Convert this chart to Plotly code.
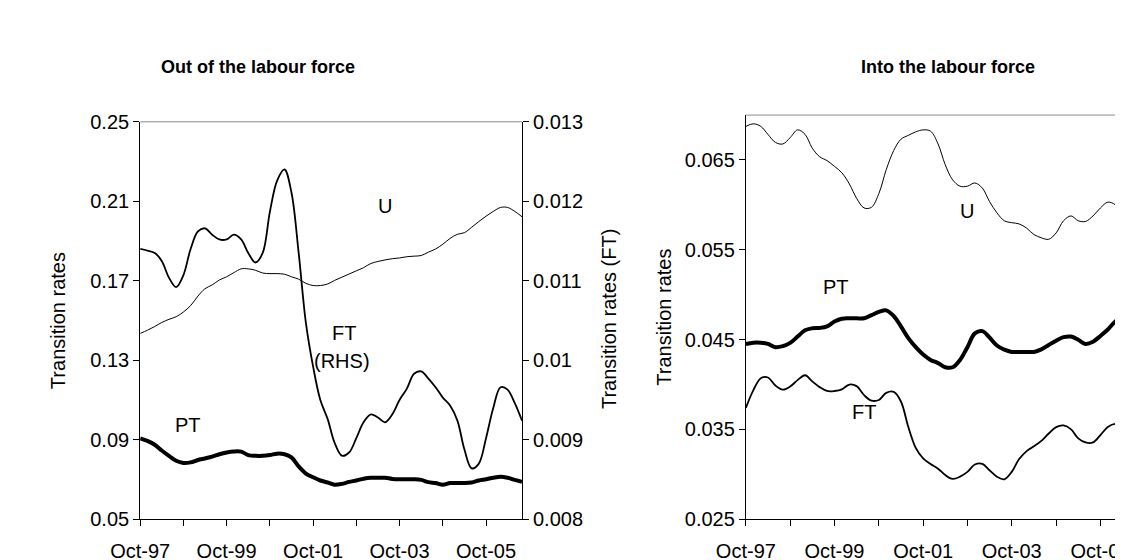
import pandas as pd
import plotly.graph_objects as go

W, H = 1123, 560
FONT = "Liberation Sans, Arial, sans-serif"

# bimonthly observations Oct-97 .. Aug-06
months = pd.date_range("1997-10-01", "2006-08-01", freq="2MS")

# ---- Out of the labour force ----
out_u = [0.1435, 0.1451, 0.1470, 0.1490, 0.1506, 0.1519, 0.1543, 0.1575, 0.1623, 0.1660,
         0.1679, 0.1704, 0.1720, 0.1741, 0.1760, 0.1760, 0.1753, 0.1739, 0.1736, 0.1736,
         0.1733, 0.1720, 0.1708, 0.1687, 0.1676, 0.1676, 0.1684, 0.1702, 0.1718, 0.1734,
         0.1750, 0.1766, 0.1787, 0.1797, 0.1805, 0.1811, 0.1815, 0.1821, 0.1824, 0.1827,
         0.1844, 0.1860, 0.1884, 0.1913, 0.1934, 0.1942, 0.1969, 0.1998, 0.2025, 0.2049,
         0.2069, 0.2069, 0.2049, 0.2022]
out_pt = [0.0907, 0.0894, 0.0875, 0.0846, 0.0819, 0.0794, 0.0783, 0.0786, 0.0798, 0.0806,
          0.0815, 0.0827, 0.0836, 0.0841, 0.0840, 0.0823, 0.0819, 0.0819, 0.0823, 0.0830,
          0.0827, 0.0811, 0.0766, 0.0730, 0.0711, 0.0695, 0.0685, 0.0674, 0.0678, 0.0688,
          0.0695, 0.0704, 0.0709, 0.0709, 0.0709, 0.0703, 0.0701, 0.0701, 0.0701, 0.0698,
          0.0687, 0.0682, 0.0674, 0.0682, 0.0682, 0.0682, 0.0685, 0.0695, 0.0701, 0.0709,
          0.0714, 0.0709, 0.0698, 0.0688]
out_ft = [0.01140, 0.01138, 0.01135, 0.01125, 0.01104, 0.01092, 0.01107, 0.01140, 0.01162, 0.01166,
          0.01158, 0.01152, 0.01152, 0.01158, 0.01152, 0.01135, 0.01123, 0.01135, 0.01187, 0.01226,
          0.01240, 0.01211, 0.01135, 0.01047, 0.00992, 0.00950, 0.00926, 0.00896, 0.00880, 0.00884,
          0.00902, 0.00922, 0.00932, 0.00928, 0.00922, 0.00932, 0.00950, 0.00964, 0.00983, 0.00986,
          0.00977, 0.00966, 0.00953, 0.00943, 0.00924, 0.00888, 0.00864, 0.00870, 0.00902, 0.00940,
          0.00966, 0.00963, 0.00946, 0.00924]

# ---- Into the labour force ----
in_u = [0.06874, 0.06903, 0.06874, 0.06785, 0.06696, 0.06678, 0.06749, 0.06835, 0.06785, 0.06632,
        0.06536, 0.06493, 0.06429, 0.06358, 0.06233, 0.06073, 0.05966, 0.05973, 0.06126, 0.06393,
        0.06607, 0.06731, 0.06774, 0.06813, 0.06835, 0.06821, 0.06678, 0.06447, 0.06279, 0.06208,
        0.06208, 0.06244, 0.06187, 0.06037, 0.05912, 0.05823, 0.05802, 0.05788, 0.05741, 0.05670,
        0.05634, 0.05617, 0.05688, 0.05823, 0.05877, 0.05823, 0.05816, 0.05877, 0.05966, 0.06030,
        0.06000, 0.05850, 0.05570, 0.05400]
in_pt = [0.04452, 0.04466, 0.04466, 0.04452, 0.04416, 0.04427, 0.04463, 0.04534, 0.04605, 0.04626,
         0.04630, 0.04648, 0.04701, 0.04733, 0.04737, 0.04737, 0.04737, 0.04772, 0.04808, 0.04826,
         0.04762, 0.04648, 0.04516, 0.04416, 0.04334, 0.04274, 0.04238, 0.04192, 0.04192, 0.04274,
         0.04416, 0.04569, 0.04594, 0.04523, 0.04434, 0.04388, 0.04363, 0.04363, 0.04363, 0.04363,
         0.04391, 0.04441, 0.04488, 0.04527, 0.04534, 0.04498, 0.04452, 0.04477, 0.04541, 0.04612,
         0.04701, 0.04748, 0.04805, 0.04844]
in_ft = [0.03740, 0.03935, 0.04071, 0.04078, 0.03989, 0.03943, 0.03978, 0.04049, 0.04103, 0.04035,
         0.03971, 0.03928, 0.03928, 0.03946, 0.04000, 0.03982, 0.03882, 0.03821, 0.03828, 0.03907,
         0.03918, 0.03811, 0.03526, 0.03294, 0.03177, 0.03116, 0.03063, 0.02992, 0.02949, 0.02974,
         0.03027, 0.03109, 0.03116, 0.03045, 0.02974, 0.02945, 0.03027, 0.03170, 0.03259, 0.03312,
         0.03373, 0.03455, 0.03526, 0.03544, 0.03501, 0.03401, 0.03355, 0.03355, 0.03437, 0.03526,
         0.03561, 0.03533, 0.03501, 0.03472]

# ticks
x_tick_dates = [f"{y}-10-01" for y in range(1997, 2006)]
x_tick_text = ["Oct-97", "", "Oct-99", "", "Oct-01", "", "Oct-03", "", "Oct-05"]
left_y_ticks = [0.05, 0.09, 0.13, 0.17, 0.21, 0.25]
left_y_text = ["0.05", "0.09", "0.13", "0.17", "0.21", "0.25"]
rhs_y_ticks = [0.008, 0.009, 0.010, 0.011, 0.012, 0.013]
rhs_y_text = ["0.008", "0.009", "0.01", "0.011", "0.012", "0.013"]
right_y_ticks = [0.025, 0.035, 0.045, 0.055, 0.065]
right_y_text = ["0.025", "0.035", "0.045", "0.055", "0.065"]

fig = go.Figure()

def line(x, y, w, xa, ya):
    return go.Scatter(x=x, y=y, mode="lines", xaxis=xa, yaxis=ya,
                      line=dict(color="black", width=w, shape="spline", smoothing=1.0),
                      showlegend=False, hoverinfo="skip")

fig.add_trace(line(months, out_u, 1, "x", "y"))
fig.add_trace(line(months, out_pt, 4, "x", "y"))
fig.add_trace(line(months, out_ft, 1.8, "x", "y2"))
fig.add_trace(line(months, in_u, 1, "x3", "y3"))
fig.add_trace(line(months, in_pt, 4, "x3", "y3"))
fig.add_trace(line(months, in_ft, 1.8, "x3", "y3"))

tickfont = dict(family=FONT, size=20, color="black")
common_x = dict(type="date", tickvals=x_tick_dates, ticktext=x_tick_text,
                ticks="outside", ticklen=6, tickcolor="black", tickwidth=1,
                showline=True, linecolor="black", linewidth=1, showgrid=False,
                zeroline=False, tickfont=tickfont, ticklabelstandoff=8)
common_y = dict(ticks="outside", ticklen=6, tickcolor="black", tickwidth=1,
                showline=True, linecolor="black", linewidth=1, showgrid=False,
                zeroline=False, tickfont=tickfont)

ybot = 1 - 520.7 / H
fig.update_layout(
    width=W, height=H,
    margin=dict(l=0, r=0, t=0, b=0),
    paper_bgcolor="white", plot_bgcolor="white",
    font=dict(family=FONT, color="black"),
    xaxis=dict(domain=[105 / W, 497.3 / W], anchor="y",
               range=["1997-10-01", "2006-08-01"], **common_x),
    yaxis=dict(domain=[ybot, 1 - 107 / H], anchor="x", range=[0.05, 0.25],
               tickvals=left_y_ticks, ticktext=left_y_text, **common_y),
    yaxis2=dict(overlaying="y", anchor="x", side="right", range=[0.008, 0.013],
                tickvals=rhs_y_ticks, ticktext=rhs_y_text, **common_y),
    xaxis3=dict(domain=[727.3 / W, 1.0], anchor="y3",
                range=["1997-10-01", "2006-06-10"], **common_x),
    yaxis3=dict(domain=[ybot, 1 - 100 / H], anchor="x3", range=[0.025, 0.07],
                tickvals=right_y_ticks, ticktext=right_y_text, **common_y),
)

# grey top border of each plot area
for xr, yr in (("x domain", "y domain"), ("x3 domain", "y3 domain")):
    fig.add_shape(type="line", xref=xr, yref=yr, x0=0, x1=1, y0=1, y1=1,
                  line=dict(color="#8c8c8c", width=1))

def ann(text, x, y, xref="paper", yref="paper", size=20, bold=False, angle=0):
    fig.add_annotation(text=f"<b>{text}</b>" if bold else text, x=x, y=y,
                       xref=xref, yref=yref, showarrow=False, textangle=angle,
                       font=dict(family=FONT, size=size, color="black"),
                       xanchor="center", yanchor="middle")

ann("Out of the labour force", 226 / W, 1 - 50 / H, size=18, bold=True)
ann("Into the labour force", 935 / W, 1 - 50 / H, size=18, bold=True)
ann("Transition rates", 20 / W, 1 - 314 / H, angle=-90)
ann("Transition rates (FT)", 586 / W, 1 - 312 / H, angle=-90)
ann("Transition rates", 643 / W, 1 - 310 / H, angle=-90)

# series labels in data coordinates
ann("U", "2003-06-01", 0.2074, "x", "y")
ann("FT", "2002-06-15", 0.1438, "x", "y")
ann("(RHS)", "2002-06-01", 0.1298, "x", "y")
ann("PT", "1998-11-10", 0.0975, "x", "y")
ann("U", "2002-09-25", 0.05937, "x3", "y3")
ann("PT", "1999-10-12", 0.05082, "x3", "y3")
ann("FT", "2000-05-28", 0.03697, "x3", "y3")

fig.write_html("out.html")
